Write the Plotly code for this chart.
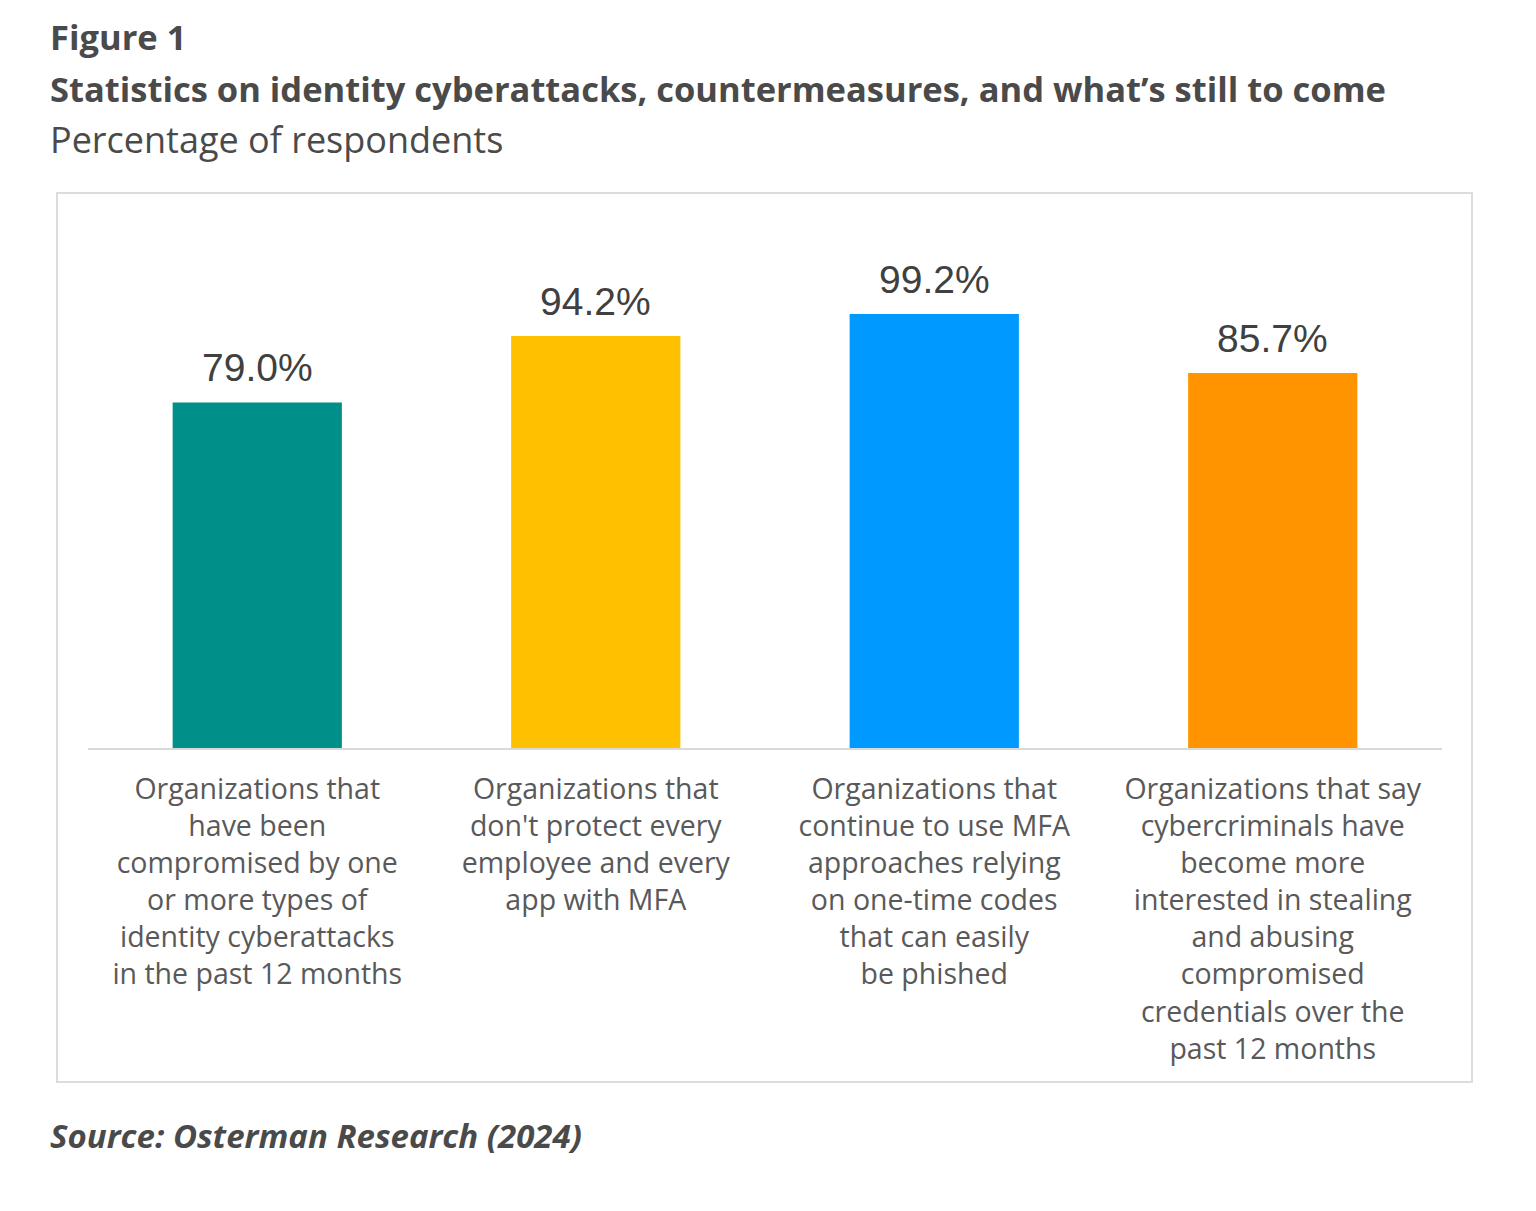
import plotly.graph_objects as go

categories = [
    "Organizations that<br>have been<br>compromised by one<br>or more types of<br>identity cyberattacks<br>in the past 12 months",
    "Organizations that<br>don't protect every<br>employee and every<br>app with MFA",
    "Organizations that<br>continue to use MFA<br>approaches relying<br>on one-time codes<br>that can easily<br>be phished",
    "Organizations that say<br>cybercriminals have<br>become more<br>interested in stealing<br>and abusing<br>compromised<br>credentials over the<br>past 12 months",
]
values = [79.0, 94.2, 99.2, 85.7]
value_labels = ["79.0%", "94.2%", "99.2%", "85.7%"]
colors = ["#009089", "#FFC000", "#0099FF", "#FF9300"]

OFF = 8  # page body margin
W, H = 1536 - 2 * OFF, 1211 - 2 * OFF
L, T = 88 - OFF, 220 - OFF
R = W - (1442 - OFF)
B = H - (748 - OFF)
plot_h = H - T - B
pw = W - L - R
px_per_unit = 4.375
ymax = plot_h / px_per_unit

fig = go.Figure(go.Bar(
    x=list(range(len(categories))),
    y=values,
    marker=dict(color=colors, line=dict(width=0)),
    width=0.5,
    hoverinfo="skip",
))

def pxx(x):
    return (x - OFF - L) / pw

def pxy(y):
    return (H - B - (y - OFF)) / plot_h

annotations = []
for i, (v, lab) in enumerate(zip(values, value_labels)):
    annotations.append(dict(
        x=i, y=v, xref="x", yref="y", text=lab, showarrow=False,
        xanchor="center", yanchor="bottom", yshift=11,
        font=dict(family="Liberation Sans, Arial, sans-serif", size=39, color="#404040"),
    ))

head_font = "Open Sans, Lato, sans-serif"
for text, y, size in [
    ("<b>Figure 1</b>", 37, 34.5),
    ("<b>Statistics on identity cyberattacks, countermeasures, and what’s still to come</b>", 88, 34.5),
    ("Percentage of respondents", 140, 36),
    ("<b><i>Source: Osterman Research (2024)</i></b>", 1135, 33),
]:
    annotations.append(dict(
        text=text, showarrow=False, xref="paper", yref="paper",
        x=pxx(48), y=pxy(y), xanchor="left", yanchor="middle",
        font=dict(family=head_font, size=size, color="#4a4a4a"),
    ))

fig.update_layout(
    width=W, height=H,
    margin=dict(l=L, r=R, t=T, b=B),
    paper_bgcolor="white", plot_bgcolor="white",
    showlegend=False,
    xaxis=dict(
        tickmode="array", tickvals=list(range(len(categories))), ticktext=categories,
        range=[-0.5, 3.5], showgrid=False, zeroline=False,
        showline=True, linecolor="#d9d9d9", linewidth=2,
        ticks="", ticklabelstandoff=15, tickangle=0,
        tickfont=dict(family="Open Sans, Roboto, sans-serif", size=28.5, color="#595959"),
    ),
    yaxis=dict(range=[0, ymax], visible=False, showgrid=False, zeroline=False),
    shapes=[dict(type="rect", xref="paper", yref="paper",
                 x0=pxx(57), x1=pxx(1472), y0=pxy(1082), y1=pxy(193),
                 line=dict(color="#dcdcdc", width=2), layer="below")],
    annotations=annotations,
)

fig.write_html("out.html")
